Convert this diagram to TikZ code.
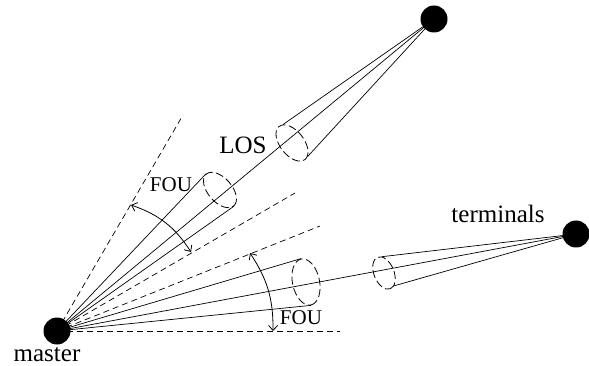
\documentclass[tikz,border=0pt]{standalone}
\usepackage{fontspec}
\setmainfont{Liberation Serif}
\usetikzlibrary{arrows.meta, shapes.geometric}

\begin{document}
\begin{tikzpicture}[
    x=1pt, y=-1pt,
    station/.style={circle, fill=black, minimum size=27pt, inner sep=0pt},
    beam/.style={ellipse, draw, line width=0.8pt, dash pattern=on 8pt off 3.5pt, inner sep=0pt},
    ray/.style={line width=0.7pt, black},
    sector/.style={line width=0.7pt, dash pattern=on 6pt off 4pt, black},
    fou/.style={{Straight Barb[length=5pt,width=9pt]}-{Straight Barb[length=5pt,width=9pt]}, line width=0.8pt},
    biglabel/.style={font=\fontsize{25}{30}\selectfont, inner sep=0pt},
    smalllabel/.style={font=\fontsize{21}{25}\selectfont, inner sep=0pt},
]
\useasboundingbox (0,0) rectangle (589,366);

\node[station] (master) at (57,331) {};
\node[station] (top) at (434,19) {};
\node[station] (right) at (576,234) {};

\node[beam, minimum width=42pt, minimum height=24pt, rotate=-52] (coneA) at (292,143) {};
\node[beam, minimum width=42pt, minimum height=24pt, rotate=-49] (coneB) at (220,190) {};
\node[beam, minimum width=47pt, minimum height=27pt, rotate=-78] (coneC) at (306,282) {};
\node[beam, minimum width=34pt, minimum height=20pt, rotate=-68] (coneD) at (384,273) {};

\coordinate (s1) at (183,115);
\coordinate (s2) at (295,193);
\coordinate (s3) at (320,226);
\coordinate (s4) at (340,331);
\coordinate (a1) at (131,205);
\coordinate (a2) at (191,252);
\coordinate (a3) at (250,253);
\coordinate (a4) at (273,331);

% line of sight
\draw[ray] (master.center) -- (top.center);
\draw[ray] (master.center) -- (right.center);

% cones at the terminals
\draw[ray] (top.center) -- (coneA.168);
\draw[ray] (top.center) -- (coneA.11);
\draw[ray] (right.center) -- (coneD.165);
\draw[ray] (right.center) -- (coneD.16);

% cones at the master
\draw[ray] (master.center) -- (coneB.west);
\draw[ray] (master.center) -- (coneB.east);
\draw[ray] (master.center) -- (coneC.west);
\draw[ray] (master.center) -- (coneC.east);

\draw[sector] (master.center) -- (s1);
\draw[sector] (master.center) -- (s2);
\draw[sector] (master.center) -- (s3);
\draw[sector] (master.center) -- (s4);

\draw[fou] (a1) to[bend left=19] (a2);
\draw[fou] (a3) to[bend left=17] (a4);

\node[biglabel] (los) at (243,145) {LOS};
\node[smalllabel] (foua) at (171,185) {FOU};
\node[smalllabel] (foub) at (301,318) {FOU};
\node[biglabel] (terminals) at (498,214) {terminals};
\node[biglabel] (masterlabel) at (47,355) {master};

\end{tikzpicture}
\end{document}
